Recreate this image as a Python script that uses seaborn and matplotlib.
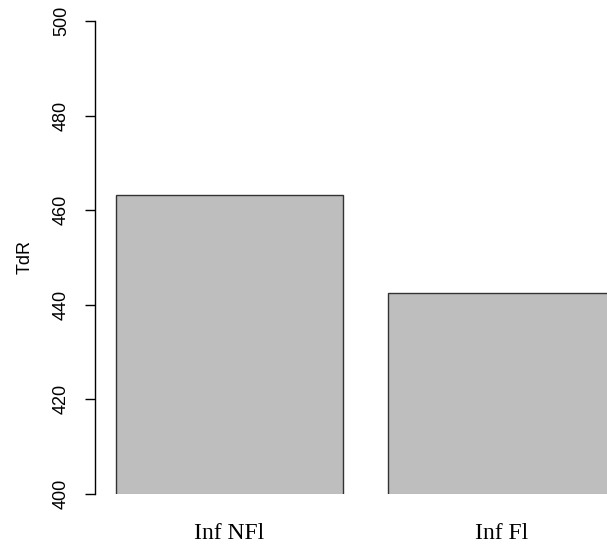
import seaborn as sns
import matplotlib.pyplot as plt
import pandas as pd

groups = ['Inf NFl', 'Inf Fl']
tdr = [463.3, 442.6]

df = pd.DataFrame({'group': groups, 'TdR': tdr})

sns.set_style('white')
plt.rcParams['font.family'] = ['Liberation Sans', 'DejaVu Sans']
plt.rcParams['text.color'] = 'black'
plt.rcParams['axes.labelcolor'] = 'black'
plt.rcParams['xtick.color'] = 'black'
plt.rcParams['ytick.color'] = 'black'

fig = plt.figure(figsize=(6.07, 5.45), dpi=100)
ax = fig.add_axes([95 / 607, 1 - 494 / 545, 1 - 95 / 607, (494 - 21) / 545])

sns.barplot(x='group', y='TdR', data=df, order=groups, color='#bebebe',
            saturation=1, edgecolor='#333333', linewidth=1.0, width=1 / 1.2, ax=ax)

ax.set_ylim(400, 500)
ax.set_xlim(-0.4938, 1.3858)
ax.set_yticks([400, 420, 440, 460, 480, 500])
ax.set_yticklabels(['400', '420', '440', '460', '480', '500'], rotation=90, va='center')
ax.tick_params(axis='y', direction='out', length=7, width=1, pad=11, labelsize=13, left=True)
ax.tick_params(axis='x', length=0, pad=21)
for lab in ax.get_xticklabels():
    lab.set_family(['Liberation Serif', 'DejaVu Serif'])
    lab.set_fontsize(17)

for s in ['top', 'right', 'bottom']:
    ax.spines[s].set_visible(False)
ax.spines['left'].set_color('black')
ax.spines['left'].set_linewidth(1)

ax.set_xlabel('')
ax.set_ylabel('TdR', fontsize=13, labelpad=14)

fig.savefig('out.png', dpi=100)
